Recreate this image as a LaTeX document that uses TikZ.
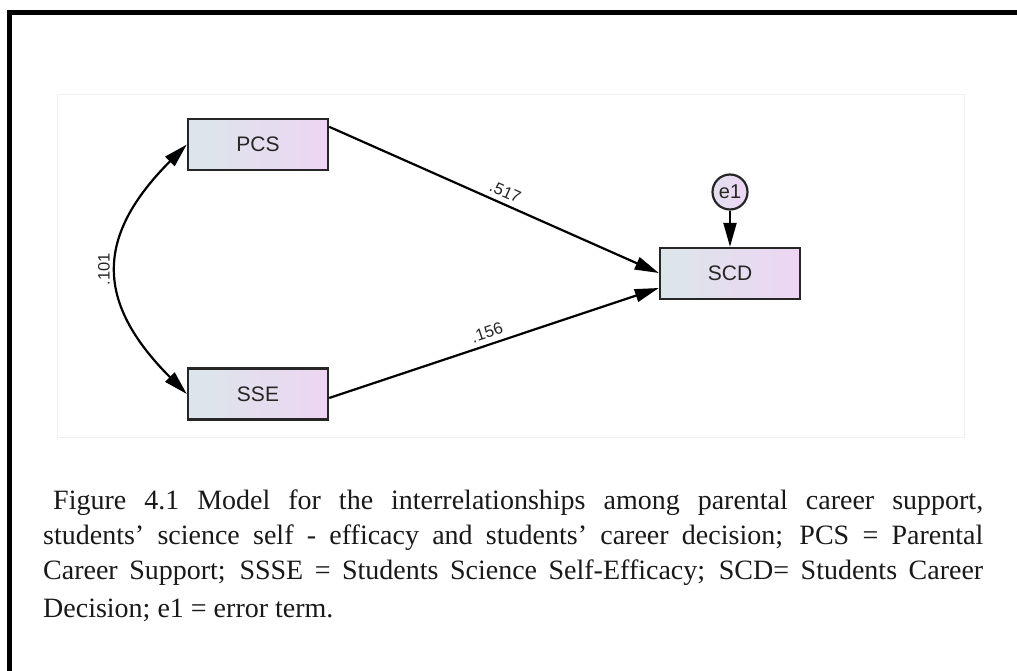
\documentclass[tikz,border=0pt]{standalone}
\usepackage{fontspec}
\setmainfont{Liberation Serif}
\newfontfamily\arialf{Liberation Sans}
\usetikzlibrary{arrows.meta}
\definecolor{boxleft}{RGB}{220,230,234}
\definecolor{boxright}{RGB}{237,213,243}
\definecolor{panelline}{RGB}{240,240,240}
\tikzset{
  varbox/.style={draw=black!85, line width=2.4pt, minimum width=140pt, minimum height=51pt,
    left color=boxleft, right color=boxright, font=\arialf\fontsize{21}{24}\selectfont, text=black!85, inner sep=0pt},
  errcirc/.style={draw=black!85, line width=2.2pt, circle, minimum size=35pt, inner sep=0pt,
    left color=boxleft!60!boxright, right color=boxright, font=\arialf\fontsize{20}{22}\selectfont, text=black!85},
  path/.style={line width=2.2pt, -{Triangle[length=24pt,width=13pt]}},
  coef/.style={font=\arialf\fontsize{16.5}{18}\selectfont, text=black!85, inner sep=1pt},
  capline/.style={anchor=base west, inner sep=0pt, font=\fontsize{28}{34}\selectfont, text=black!90}
}
\begin{document}
\begin{tikzpicture}[x=1pt,y=-1pt]
\useasboundingbox (0,0) rectangle (1017,671);
\fill[white] (0,0) rectangle (1017,671);
% borders
\fill[black] (7,10) rectangle (1017,15);
\fill[black] (7,10) rectangle (12,671);
% panel
\draw[panelline, line width=1pt] (57,95) rectangle (964,437);
% nodes
\node[varbox] (PCS) at (258,144.5) {PCS};
\node[varbox] (SSE) at (258,394) {SSE};
\node[varbox] (SCD) at (730,273.5) {SCD};
\node[errcirc] (e1) at (730,192) {e1};
% connectors
\draw[path] ([yshift=-9pt]PCS.north east) -- node[coef, sloped, above, pos=0.52, yshift=4pt] {.517} ([yshift=0.5pt]SCD.west);
\draw[path] ([yshift=-4pt]SSE.east) -- node[coef, sloped, above, pos=0.49, yshift=4pt] {.156} ([yshift=-14.5pt]SCD.west);
\draw[path] (e1) -- (SCD);
\draw[line width=2.2pt, {Triangle[length=24pt,width=13pt]}-{Triangle[length=24pt,width=13pt]}]
  (PCS.west) .. controls (95,236.5) and (95,302) .. (SSE.west)
  node[coef, pos=0.5, rotate=90, anchor=south, yshift=6pt] {.101};
% caption
\node[capline] (cap1) at (53,509) {\makebox[930pt][s]{Figure 4.1 Model for the interrelationships among parental career support,}};
\node[capline] (cap2) at (43,544) {\makebox[940pt][s]{students’ science self - efficacy and students’ career decision; PCS = Parental}};
\node[capline] (cap3) at (43,579) {\makebox[940pt][s]{Career Support; SSSE = Students Science Self-Efficacy; SCD= Students Career}};
\node[capline] (cap4) at (43,617) {Decision; e1 = error term.};
\end{tikzpicture}
\end{document}
